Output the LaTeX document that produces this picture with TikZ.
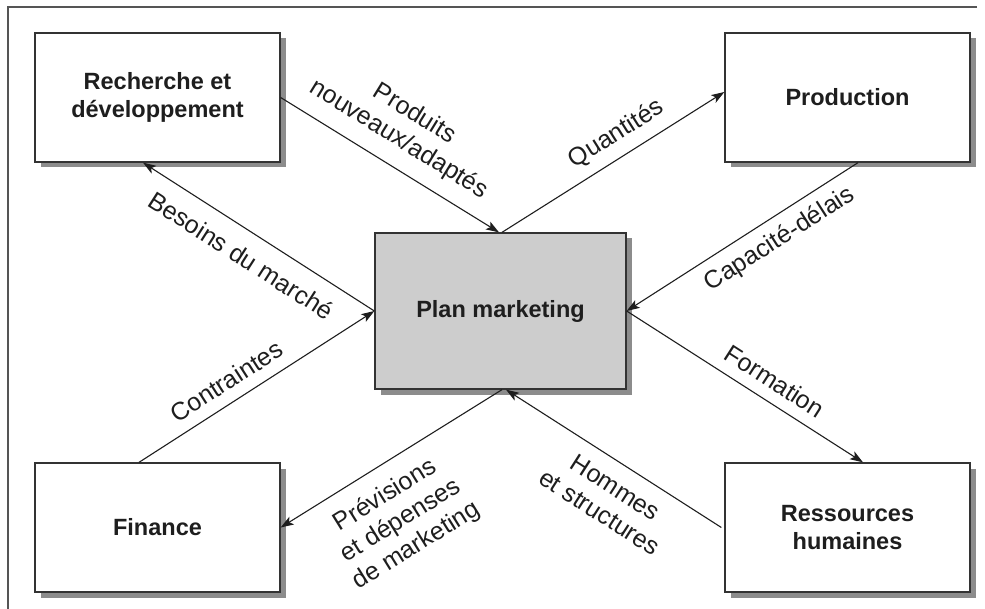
\documentclass[tikz,border=0pt]{standalone}
\usepackage{fontspec}
\setmainfont{Liberation Sans}
\usetikzlibrary{arrows.meta}
\definecolor{ink}{HTML}{1E1E1E}
\definecolor{boxline}{HTML}{333333}
\definecolor{shadowgray}{HTML}{8C8C8C}
\definecolor{planfill}{HTML}{CDCDCD}
\definecolor{framec}{HTML}{555555}
\begin{document}
\begin{tikzpicture}[x=1pt,y=-1pt,
  unitbox/.style={draw=boxline, line width=1.3pt, fill=white, minimum width=245pt, minimum height=129pt,
    inner sep=0pt, align=center, text=ink, font=\fontsize{23.5}{28}\selectfont\bfseries},
  planbox/.style={unitbox, fill=planfill, minimum width=251pt, minimum height=156pt},
  shadowbox/.style={fill=shadowgray, draw=none},
  conn/.style={draw=ink, line width=1.1pt, -{Stealth[length=13pt,width=9pt,inset=3pt]}},
  lbl/.style={sloped, inner sep=0pt, align=center, text=ink, font=\fontsize{25}{29.5}\selectfont}]
\useasboundingbox (0,0) rectangle (985,609);
\draw[framec, line width=1.5pt] (977,7) -- (8,7) -- (8,612);
% shadows
\fill[shadowbox] (40.5,38.5) rectangle (285.5,167.5);
\fill[shadowbox] (730.5,38.5) rectangle (975.5,167.5);
\fill[shadowbox] (40.5,468.5) rectangle (285.5,597.5);
\fill[shadowbox] (730.5,468.5) rectangle (975.5,597.5);
\fill[shadowbox] (380.5,238.5) rectangle (631.5,394.5);
\node[unitbox] (rd) at (157.5,97.5) {Recherche et\\développement};
\node[unitbox] (prod) at (847.5,97.5) {Production};
\node[unitbox] (fin) at (157.5,527.5) {Finance};
\node[unitbox] (rh) at (847.5,527.5) {Ressources\\humaines};
\node[planbox] (plan) at (500.5,311) {Plan marketing};
% connectors
\draw[conn] (rd.east) -- node[lbl, pos=0.478, yshift=41pt] {Produits\\nouveaux/adaptés} ([xshift=-1.5pt]plan.north);
\draw[conn] ([xshift=1.5pt]plan.north) -- node[lbl, pos=0.568, yshift=22pt] {Quantités} ([yshift=5.5pt]prod.west);
\draw[conn] ([xshift=10.5pt]prod.south) -- node[lbl, pos=0.39, yshift=-22.5pt] {Capacité-délais} (plan.east);
\draw[conn] (plan.east) -- node[lbl, pos=0.579, yshift=21pt] {Formation} ([xshift=15.5pt]rh.north);
\draw[conn] (plan.west) -- node[lbl, pos=0.516, yshift=-25pt] {Besoins du marché} ([xshift=-14.5pt]rd.south);
\draw[conn] ([xshift=-18.5pt]fin.north) -- node[lbl, pos=0.42, yshift=21pt] {Contraintes} (plan.west);
\draw[conn] ([xshift=1.5pt]plan.south) -- node[lbl, pos=0.595, yshift=-58pt] {Prévisions\\et dépenses\\de marketing} (fin.east);
\draw[conn] ([xshift=-3pt]rh.west) -- node[lbl, pos=0.433, yshift=-38pt] {Hommes\\et structures} ([xshift=5.5pt]plan.south);
\end{tikzpicture}
\end{document}
